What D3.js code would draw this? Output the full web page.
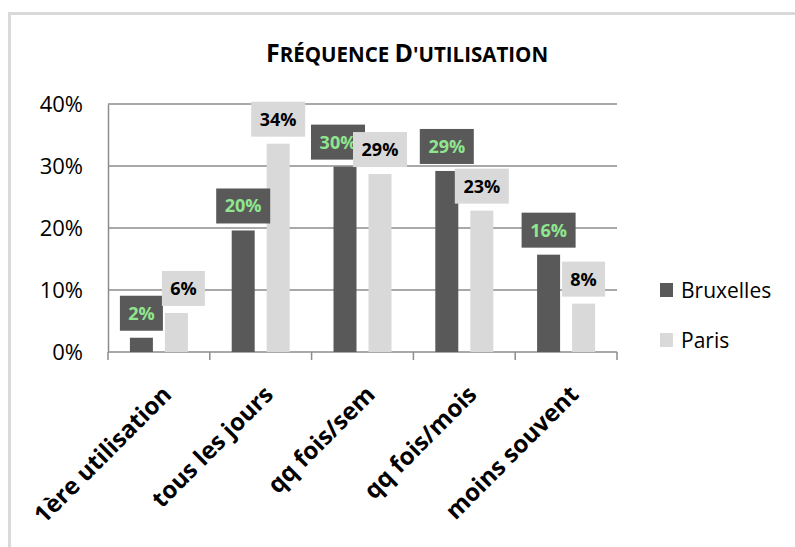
<!DOCTYPE html>
<html>
<head>
<meta charset="utf-8">
<script src="https://cdn.jsdelivr.net/npm/d3@7"></script>
<style>
  html, body { margin: 0; padding: 0; background: #fff; }
  svg { display: block; font-family: "Open Sans", "Liberation Sans", sans-serif; }
</style>
</head>
<body>
<svg id="chart" width="795" height="547"></svg>
<script>
// Usage frequency, share of respondents per city
const categories = ["1ère utilisation", "tous les jours", "qq fois/sem", "qq fois/mois", "moins souvent"];
const seriesNames = ["Bruxelles", "Paris"];
const bruxelles = [0.023, 0.196, 0.299, 0.292, 0.157];
const paris = [0.063, 0.336, 0.287, 0.228, 0.078];
const yTicks = [0, 0.1, 0.2, 0.3, 0.4];

const seriesValues = [bruxelles, paris];
const barColors = ["#595959", "#d9d9d9"];
const labelColors = ["#8fe68f", "#000000"];

const svg = d3.select("#chart");

// outer chart frame
svg.append("rect")
  .attr("x", 9.5).attr("y", 13.5)
  .attr("width", 800).attr("height", 560)
  .attr("fill", "none").attr("stroke", "#d9d9d9").attr("stroke-width", 3);

// title in small caps
const title = svg.append("text")
  .attr("x", 407).attr("y", 62)
  .attr("text-anchor", "middle")
  .attr("font-weight", "bold")
  .attr("fill", "#000");
[["F", 25], ["RÉQUENCE ", 20.5], ["D", 25], ["'UTILISATION", 20.5]].forEach(([t, s]) => {
  title.append("tspan").attr("font-size", s).text(t);
});

const plot = { left: 108, right: 617, top: 104, bottom: 352 };

const x = d3.scaleBand().domain(categories).range([plot.left, plot.right]).padding(0);
const xs = d3.scaleBand().domain(seriesNames).range([0, x.bandwidth()])
  .paddingInner(0.343).paddingOuter(0.626);
const y = d3.scaleLinear().domain([0, 0.4]).range([plot.bottom, plot.top]);

// horizontal gridlines
svg.append("g")
  .selectAll("line")
  .data(yTicks.filter(t => t > 0))
  .join("line")
  .attr("x1", plot.left).attr("x2", plot.right)
  .attr("y1", d => y(d)).attr("y2", d => y(d))
  .attr("stroke", "#8c8c8c").attr("stroke-width", 1.5);

// y axis labels
const yAxis = svg.append("g")
  .attr("transform", `translate(${plot.left},0)`)
  .call(d3.axisLeft(y).tickValues(yTicks).tickFormat(d3.format(".0%")).tickSize(0).tickPadding(25));
yAxis.select(".domain").attr("stroke", "#8c8c8c").attr("stroke-width", 1.5);
yAxis.selectAll("text")
  .attr("font-family", "'Open Sans', sans-serif")
  .attr("font-size", 22).attr("fill", "#000");

// x axis with ticks at category boundaries
const xAxis = svg.append("g")
  .attr("transform", `translate(0,${plot.bottom})`);
xAxis.append("line")
  .attr("x1", plot.left).attr("x2", plot.right)
  .attr("stroke", "#8c8c8c").attr("stroke-width", 1.5);
const bounds = categories.map(c => x(c)).concat([x(categories[categories.length - 1]) + x.bandwidth()]);
xAxis.selectAll("line.tick")
  .data(bounds)
  .join("line")
  .attr("class", "tick")
  .attr("x1", d => d).attr("x2", d => d)
  .attr("y1", 0).attr("y2", 8)
  .attr("stroke", "#8c8c8c").attr("stroke-width", 1.5);
xAxis.selectAll("text")
  .data(categories)
  .join("text")
  .attr("transform", d => `translate(${x(d) + x.bandwidth() / 2 + 14},${44}) rotate(-45)`)
  .attr("text-anchor", "end")
  .attr("font-weight", "bold")
  .attr("font-size", 24)
  .attr("fill", "#000")
  .text(d => d);

// bars
const groups = svg.append("g").selectAll("g")
  .data(categories)
  .join("g")
  .attr("transform", d => `translate(${x(d)},0)`);

groups.selectAll("rect")
  .data((c, i) => seriesNames.map((s, k) => ({ s, k, v: seriesValues[k][i] })))
  .join("rect")
  .attr("x", d => xs(d.s))
  .attr("width", xs.bandwidth())
  .attr("y", d => y(d.v))
  .attr("height", d => y(0) - y(d.v))
  .attr("fill", d => barColors[d.k]);

// value labels in filled boxes above each bar
const fmt = d3.format(".0%");
const labelLayer = svg.append("g");
categories.forEach((c, i) => {
  const items = seriesNames.map((s, k) => {
    const v = seriesValues[k][i];
    const text = fmt(v);
    const w = text.length === 2 ? 43 : 54;
    const cx = x(c) + xs(s) + xs.bandwidth() / 2;
    const bottom = y(v) - 7;
    return { k, v, text, w, cx, top: bottom - 35, bottom };
  });
  // push the higher box outward if the two boxes collide
  const [a, b] = items;
  const overlapX = a.cx + a.w / 2 > b.cx - b.w / 2;
  const overlapY = a.top < b.bottom && b.top < a.bottom;
  if (overlapX && overlapY) {
    if (a.v > b.v) a.cx -= 7; else b.cx += 7;
  }
  items.forEach(d => {
    const g = labelLayer.append("g");
    g.append("rect")
      .attr("x", d.cx - d.w / 2).attr("y", d.top)
      .attr("width", d.w).attr("height", 35)
      .attr("fill", barColors[d.k]);
    g.append("text")
      .attr("x", d.cx).attr("y", d.top + 24)
      .attr("text-anchor", "middle")
      .attr("font-weight", "bold")
      .attr("font-size", 18)
      .attr("fill", labelColors[d.k])
      .text(d.text);
  });
});

// legend
const legend = svg.append("g").attr("transform", "translate(660,283)");
seriesNames.forEach((s, k) => {
  const row = legend.append("g").attr("transform", `translate(0,${k * 50})`);
  row.append("rect").attr("width", 13).attr("height", 14).attr("fill", barColors[k]);
  row.append("text").attr("x", 21).attr("y", 15)
    .attr("font-size", 21).attr("fill", "#000").text(s);
});
</script>
</body>
</html>
